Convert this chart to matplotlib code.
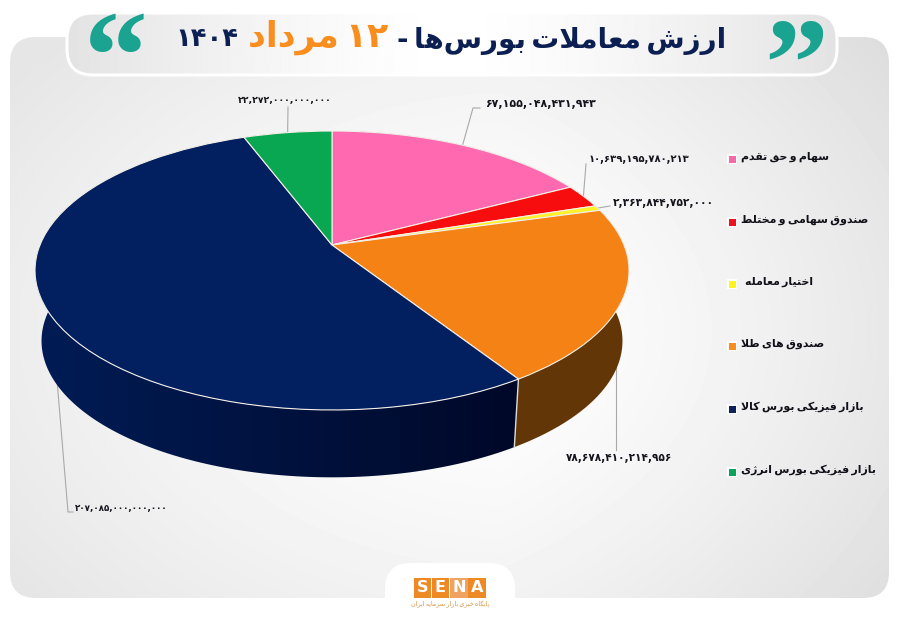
import re
import unicodedata
from itertools import chain
import numpy as np
import matplotlib
matplotlib.use("Agg")
import matplotlib.pyplot as plt
from matplotlib.patches import FancyBboxPatch, Rectangle, Polygon
from matplotlib.transforms import Transform

# ---------- data ----------
categories = ["سهام و حق تقدم", "صندوق سهامی و مختلط", "اختیار معامله",
              "صندوق های طلا", "بازار فیزیکی بورس کالا", "بازار فیزیکی بورس انرژی"]
values = [67155048431943, 10639195780213, 2363844752000,
          78678410214956, 207085000000000, 22272000000000]
top_colors = ["#ff69b0", "#f70d0d", "#fff12a", "#f58214", "#02205f", "#0aa753"]
wall_colors = ["#8a3a60", "#800808", "#8a8210", "#633607", "#06143a", "#065a2c"]
legend_colors = ["#f36aa5", "#ee1122", "#fff51e", "#f78e23", "#0d2258", "#0aa35a"]
title_parts = ["ارزش معاملات بورس‌ها -", "۱۲ مرداد", "۱۴۰۴"]
footer_text = "پایگاه خبری بازار سرمایه ایران"
logo_letters = list("SENA")

NAVY = "#0b1f52"
ORANGE = "#f98d1e"
TEAL = "#1aa391"

# ---------- Persian shaping (matplotlib draws no joined forms by itself) ----------
FORMS = {}
for cp in chain(range(0xFB50, 0xFE00), range(0xFE70, 0xFEFF)):
    d = unicodedata.decomposition(chr(cp)).split()
    if len(d) == 2 and d[0] in ("<isolated>", "<final>", "<initial>", "<medial>"):
        FORMS[(chr(int(d[1], 16)), d[0])] = chr(cp)


def shape(s):
    s = s.replace("لا", "\uFEFB")
    out = []
    for i, c in enumerate(s):
        if c == "\uFEFB":
            p = s[i - 1] if i else " "
            joined = (p, "<initial>") in FORMS
            out.append("\uFEFC" if joined else "\uFEFB")
            continue
        if (c, "<isolated>") not in FORMS:
            out.append("" if c == "\u200c" else ("\u2009" if c == " " else c))
            continue
        p = s[i - 1] if i else " "
        n = s[i + 1] if i + 1 < len(s) else " "
        jp = (p, "<initial>") in FORMS
        jn = (n, "<isolated>") in FORMS or n == "\uFEFB"
        can_init = (c, "<initial>") in FORMS
        if jp and jn and can_init:
            form = "<medial>"
        elif jp:
            form = "<final>"
        elif jn and can_init:
            form = "<initial>"
        else:
            form = "<isolated>"
        out.append(FORMS.get((c, form), c))
    vis = "".join(out)[::-1]
    return re.sub(r"[۰-۹]+", lambda m: m.group(0)[::-1], vis)


def fa_digits(v):
    return f"{v:,}".translate(str.maketrans("0123456789", "۰۱۲۳۴۵۶۷۸۹"))


# ---------- figure ----------
fig = plt.figure(figsize=(9, 6.23), dpi=100, facecolor="white")
ax = fig.add_axes([0, 0, 1, 1])
W, H = 900, 623


def limits():
    ax.set_aspect("auto")
    ax.set_xlim(0, W)
    ax.set_ylim(H, 0)


limits()
ax.set_autoscale_on(False)

# panel with soft gradient
yy, xx = np.mgrid[0:H, 0:W]
dist = np.hypot((xx - 520) / 500, (yy - 330) / 330)
bg = 1.0 - 0.07 * np.clip(dist, 0, 1.25) ** 1.5 - 0.05 * np.clip((xx - 500) / 400, 0, 1)
panel = FancyBboxPatch((10, 37), 879, 561, boxstyle="round,pad=0,rounding_size=26",
                       fc="none", ec="none")
ax.add_patch(panel)
im = ax.imshow(bg, cmap="gray", vmin=0, vmax=1, extent=(0, W, H, 0), zorder=1,
               interpolation="bilinear", aspect="auto")
im.set_clip_path(panel)

# footer notch and logo
ax.add_patch(FancyBboxPatch((385, 563), 130, 60, boxstyle="round,pad=0,rounding_size=26",
                            fc="white", ec="none", zorder=2))
ax.add_patch(Rectangle((360, 598), 180, 25, fc="white", ec="none", zorder=2))
for i, ch in enumerate(logo_letters):
    x0 = 413.5 + i * 18.3
    ax.add_patch(Rectangle((x0, 577.5), 17.4, 20, fc="#f0a261" if ch == "N" else "#ee8a25",
                           ec="none", zorder=3))
    ax.text(x0 + 8.7, 587.8, ch, color="white", fontsize=11.5, fontweight="bold",
            ha="center", va="center", zorder=4)
ax.text(450, 604.5, shape(footer_text), color="#d9923f", fontsize=4.6, ha="center",
        va="center", zorder=4)

# title pill
pill = FancyBboxPatch((67, 13), 770, 62, boxstyle="round,pad=0,rounding_size=26",
                      fc="none", ec="white", lw=2.2, zorder=6)
ax.add_patch(pill)
grad = 1 - 0.11 * (np.abs(np.linspace(-1, 1, 800)) ** 1.4)[None, :]
pim = ax.imshow(grad, cmap="gray", vmin=0, vmax=1, extent=(67, 837, 75, 13), zorder=5,
                aspect="auto")
pim.set_clip_path(pill)
limits()

ax.text(726, 41, shape(title_parts[0]), color=NAVY, fontsize=20, fontweight="bold",
        ha="right", va="center", zorder=7)
ax.text(388, 37, shape(title_parts[1]), color=ORANGE, fontsize=25, fontweight="bold",
        ha="right", va="center", zorder=7)
ax.text(238, 39, title_parts[2], color=NAVY, fontsize=18.5, fontweight="bold",
        ha="right", va="center", zorder=7)
ax.text(116, 68, "\u201C", color=TEAL, fontsize=92, fontweight="bold", family="Liberation Serif",
        ha="center", va="center", zorder=7)
ax.text(796, 75, "\u201D", color=TEAL, fontsize=92, fontweight="bold", family="Liberation Serif",
        ha="center", va="center", zorder=7)

# ---------- perspective pie ----------
CX, CY, AX_, BY, K = 332, 245, 292, 134.8, 0.1828
WALL_Y0, WALL_S = 316, 0.978


class Perspective(Transform):
    input_dims = output_dims = 2
    is_separable = False
    has_inverse = False

    def transform_non_affine(self, values):
        p = np.asarray(values, float)
        d = 1 + K * p[:, 1]
        return np.column_stack((CX + AX_ * p[:, 0] / d, CY - BY * p[:, 1] / d))


persp = Perspective()


def top_point(theta):
    uv = np.column_stack((np.sin(theta), np.cos(theta)))
    return persp.transform(uv)


def bottom_point(theta):
    p = top_point(theta)
    return np.column_stack((CX + WALL_S * (p[:, 0] - CX), WALL_Y0 + WALL_S * (p[:, 1] - CY)))


fractions = np.array(values, float) / sum(values)
edges = np.concatenate(([0], np.cumsum(fractions))) * 2 * np.pi

for i, (a, b) in enumerate(zip(edges[:-1], edges[1:])):
    th = np.linspace(a, b, 200)
    poly_pts = np.vstack((top_point(th), bottom_point(th)[::-1]))
    if categories[i] == categories[4]:
        poly = Polygon(poly_pts, closed=True, fc="none", ec="none", zorder=8)
        ax.add_patch(poly)
        g = np.linspace(0, 1, 300)[None, :]
        c0, c1 = np.array([0x01, 0x1c, 0x56]) / 255, np.array([0x00, 0x08, 0x28]) / 255
        rgb = (c0[None, None, :] * (1 - g[..., None]) + c1[None, None, :] * g[..., None])
        w = ax.imshow(rgb, extent=(30, 520, 490, 250), zorder=8, aspect="auto")
        w.set_clip_path(poly)
    else:
        ax.add_patch(Polygon(poly_pts, closed=True, fc=wall_colors[i], ec="none", zorder=8))
limits()

# seam between the two visible walls
seam = edges[4:5]
ax.plot(*np.vstack((top_point(seam), bottom_point(seam))).T, color="#dcdcdc", lw=1.0, zorder=9)

wedges, _ = ax.pie(values, colors=top_colors, startangle=90, counterclock=False, radius=1,
                   frame=True,
                   wedgeprops=dict(transform=persp + ax.transData, edgecolor="#f4efe8",
                                   linewidth=0.8, zorder=10))
limits()
ax.set_axis_off()

# ---------- value labels with leader lines ----------
mids = (edges[:-1] + edges[1:]) / 2
elbows = [[(473, 108), (480, 108)], [(586, 164)], [(610, 206)],
          None, [(68, 512), (73, 512)], [(288, 107)]]
label_pos = [(485, 104), (589, 159), (613, 203), (566, 458), (75, 508), (238, 100)]
label_size = [7.9, 7.2, 7.7, 7.6, 6.3, 6.7]
for i, v in enumerate(values):
    if elbows[i] is None:
        pts = [(615.7, 367), (615.7, 450)]
    elif i == 4:
        pts = [(57, 380)] + elbows[i]
    else:
        pts = [tuple(top_point(np.array([mids[i]]))[0])] + elbows[i]
    pts = np.array(pts)
    ax.plot(pts[:, 0], pts[:, 1], color="#a9a9a9", lw=0.8, zorder=7)
    ax.text(label_pos[i][0], label_pos[i][1], fa_digits(v), color="#14141c",
            fontsize=label_size[i], fontweight="bold", ha="left", va="center", zorder=11)

# ---------- legend ----------
legend_y = [159, 222, 284, 346, 409, 472]
legend_x = [741, 741, 745, 741, 741, 741]
for name, col, y, tx in zip(categories, legend_colors, legend_y, legend_x):
    ax.add_patch(Rectangle((727, y - 5), 10, 10, fc="white", ec="none", zorder=7))
    ax.add_patch(Rectangle((728.5, y - 3.5), 7, 7, fc=col, ec="none", zorder=8))
    ax.text(tx, y - 2, shape(name), color="#101018", fontsize=7.9, fontweight="bold",
            ha="left", va="center", zorder=8)

fig.savefig("out.png", dpi=100)
